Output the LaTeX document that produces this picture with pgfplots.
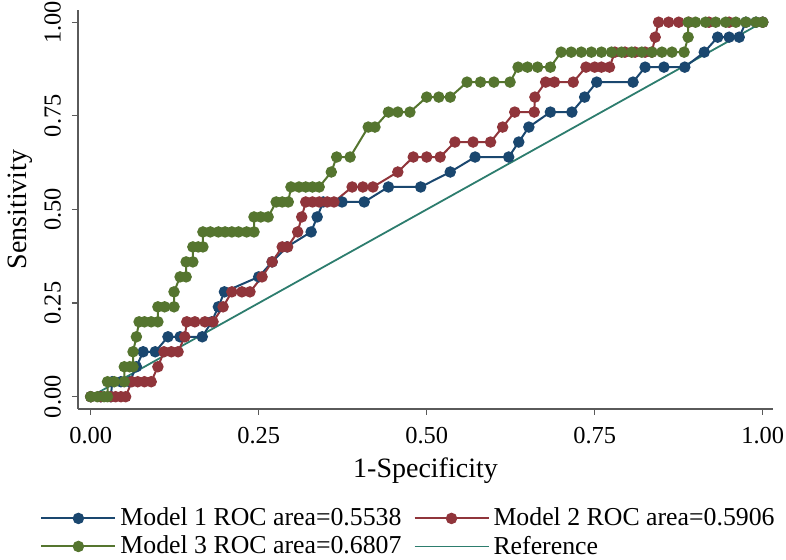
\documentclass[border=0pt]{standalone}
\usepackage{pgfplots}
\pgfplotsset{compat=1.18}
\usetikzlibrary{calc}
\usepackage{fontspec}
\setmainfont{Liberation Serif}
\definecolor{snavy}{RGB}{26,71,111}
\definecolor{smaroon}{RGB}{144,53,59}
\definecolor{sgreen}{RGB}{85,117,47}
\definecolor{steal}{RGB}{45,125,110}
\definecolor{axgray}{RGB}{90,90,90}
\begin{document}
\begin{tikzpicture}
\begin{axis}[
  scale only axis, width=347.5pt, height=199.5pt,
  xmin=-0.0189, xmax=1.0153, ymin=-0.0328, ymax=1.0326,
  axis x line*=bottom, axis y line*=left,
  axis line style={axgray, line width=0.6pt},
  xtick={0,0.25,0.5,0.75,1}, ytick={0,0.25,0.5,0.75,1},
  xticklabels={0.00,0.25,0.50,0.75,1.00},
  yticklabels={0.00,0.25,0.50,0.75,1.00},
  tick align=outside, major tick length=3pt,
  tick style={axgray, line width=0.6pt},
  /pgf/number format/assume math mode=true,
  ticklabel style={font=\fontsize{12.2}{14}\selectfont},
  yticklabel style={rotate=90, anchor=south, yshift=2pt},
  xticklabel style={yshift=-2.5pt},
  xlabel={1-Specificity}, ylabel={Sensitivity},
  label style={font=\fontsize{14}{16}\selectfont},
  xlabel style={yshift=0pt},
  ylabel style={yshift=-1pt},
  clip=false,
  legend columns=2,
  legend cell align=left,
  legend style={draw=none, fill=none, at={(0.477,-0.227)}, anchor=north,
    font=\fontsize{12.9}{14}\selectfont, row sep=-0.5pt,
    /tikz/every even column/.append style={column sep=4pt}},
  legend image code/.code={
    \draw[#1, mark=none] (0pt,0pt) -- (37pt,0pt);
    \draw[#1, only marks] plot coordinates {(18.5pt,0pt)};
  },
  every axis plot/.append style={line width=1pt},
]
\addplot[steal, line width=0.9pt, forget plot] coordinates {(0,0) (1,1)};
\addplot[snavy, mark=*, mark size=2.35pt, mark options={solid, fill=snavy}] coordinates {
(0,0) (0.015,0) (0.03,0)
(0.032,0.04) (0.045,0.04) (0.058,0.04)
(0.068,0.08)
(0.078,0.12) (0.096,0.12)
(0.115,0.16) (0.133,0.16) (0.166,0.16)
(0.18,0.20) (0.19,0.24) (0.199,0.28)
(0.25,0.32) (0.27,0.36) (0.292,0.40)
(0.328,0.44) (0.337,0.48)
(0.346,0.52) (0.374,0.52) (0.407,0.52)
(0.443,0.56) (0.491,0.56)
(0.535,0.60)
(0.572,0.64) (0.622,0.64)
(0.637,0.68) (0.652,0.72)
(0.684,0.76) (0.716,0.76)
(0.735,0.80)
(0.753,0.84) (0.807,0.84)
(0.825,0.88) (0.853,0.88) (0.884,0.88)
(0.913,0.92)
(0.933,0.96) (0.95,0.96) (0.965,0.96)
(0.975,1) (0.99,1) (1,1)
};
\addlegendentry{Model 1 ROC area=0.5538}
\addplot[smaroon, mark=*, mark size=2.35pt, mark options={solid, fill=smaroon}] coordinates {
(0,0) (0.015,0) (0.03,0) (0.037,0) (0.045,0) (0.052,0)
(0.061,0.04) (0.07,0.04) (0.08,0.04) (0.09,0.04)
(0.1,0.08)
(0.109,0.12) (0.12,0.12) (0.13,0.12)
(0.14,0.16)
(0.143,0.20) (0.155,0.20) (0.17,0.20) (0.182,0.20)
(0.197,0.24)
(0.21,0.28) (0.225,0.28) (0.237,0.28)
(0.255,0.32) (0.27,0.36)
(0.285,0.40) (0.293,0.40)
(0.308,0.44) (0.314,0.48)
(0.32,0.52) (0.33,0.52) (0.34,0.52) (0.352,0.52) (0.362,0.52)
(0.389,0.56) (0.405,0.56) (0.42,0.56)
(0.457,0.60)
(0.48,0.64) (0.50,0.64) (0.52,0.64)
(0.542,0.68) (0.569,0.68) (0.595,0.68)
(0.613,0.72)
(0.631,0.76) (0.66,0.76)
(0.661,0.80)
(0.677,0.84) (0.69,0.84) (0.718,0.84)
(0.737,0.88) (0.75,0.88) (0.76,0.88) (0.772,0.88)
(0.78,0.92) (0.795,0.92) (0.81,0.92) (0.825,0.92) (0.835,0.92)
(0.84,0.96)
(0.845,1) (0.86,1) (0.875,1) (0.89,1) (0.92,1) (0.95,1) (1,1)
};
\addlegendentry{Model 2 ROC area=0.5906}
\addplot[sgreen, mark=*, mark size=2.35pt, mark options={solid, fill=sgreen}] coordinates {
(0,0) (0.01,0) (0.02,0) (0.025,0)
(0.025,0.04) (0.035,0.04) (0.05,0.04)
(0.05,0.08) (0.058,0.08) (0.063,0.08)
(0.063,0.12)
(0.068,0.16)
(0.072,0.20) (0.08,0.20) (0.09,0.20) (0.1,0.20)
(0.1,0.24) (0.11,0.24) (0.124,0.24)
(0.124,0.28)
(0.133,0.32) (0.142,0.32)
(0.142,0.36) (0.152,0.36)
(0.152,0.40) (0.16,0.40) (0.167,0.40)
(0.167,0.44) (0.178,0.44) (0.19,0.44) (0.2,0.44) (0.21,0.44) (0.22,0.44) (0.232,0.44) (0.243,0.44)
(0.243,0.48) (0.253,0.48) (0.264,0.48)
(0.276,0.52) (0.285,0.52) (0.294,0.52)
(0.298,0.56) (0.31,0.56) (0.32,0.56) (0.33,0.56) (0.34,0.56)
(0.358,0.60)
(0.366,0.64) (0.386,0.64)
(0.413,0.72) (0.423,0.72)
(0.443,0.76) (0.457,0.76) (0.475,0.76)
(0.50,0.80) (0.518,0.80) (0.535,0.80)
(0.56,0.84) (0.58,0.84) (0.60,0.84) (0.624,0.84)
(0.636,0.88) (0.65,0.88) (0.665,0.88) (0.684,0.88)
(0.70,0.92) (0.715,0.92) (0.73,0.92) (0.745,0.92) (0.76,0.92) (0.775,0.92) (0.79,0.92) (0.805,0.92) (0.82,0.92) (0.835,0.92) (0.85,0.92) (0.865,0.92) (0.883,0.92)
(0.889,0.96)
(0.889,1) (0.9,1) (0.915,1) (0.93,1) (0.945,1) (0.96,1) (0.975,1) (0.99,1) (1,1)
};
\addlegendentry{Model 3 ROC area=0.6807}
\addlegendimage{steal, line width=0.9pt}
\addlegendentry{Reference}
\coordinate (SW) at (rel axis cs:0,0);
\end{axis}
\pgfresetboundingbox
\useasboundingbox ($(SW)+(-39pt,-75.5pt)$) rectangle ($(SW)+(354pt,204.5pt)$);
\end{tikzpicture}
\end{document}
